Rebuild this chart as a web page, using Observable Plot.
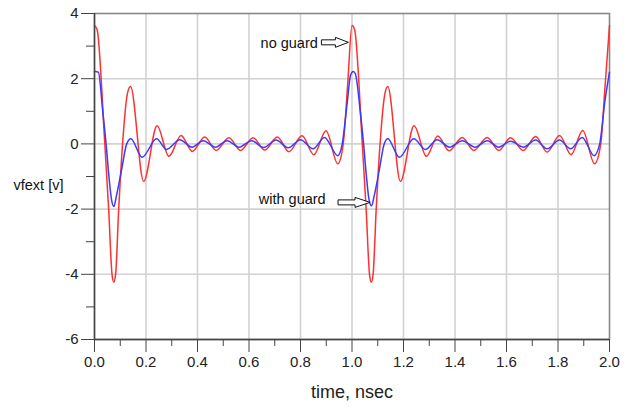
<!DOCTYPE html>
<html><head><meta charset="utf-8">
<script src="https://cdn.jsdelivr.net/npm/d3@7"></script>
<script src="https://cdn.jsdelivr.net/npm/@observablehq/plot@0.6"></script>
<style>html,body{margin:0;padding:0;background:#fff;}</style>
</head><body><div id="chart"></div>
<script>
// ---- data ----
const redT = [0.000,0.010,0.040,0.055,0.068,0.075,0.082,0.094,0.109,0.128,0.140,0.191,0.243,0.289,0.336,0.380,0.428,0.472,0.522,0.567,0.616,0.661,0.710,0.755,0.806,0.852,0.899,0.945,0.966,0.983,
              1.000,1.010,1.040,1.055,1.068,1.075,1.082,1.094,1.109,1.128,1.139,1.188,1.241,1.289,1.333,1.377,1.428,1.473,1.525,1.570,1.616,1.665,1.713,1.758,1.806,1.851,1.896,1.942,1.966,1.983,2.000];
const redV = [3.63,3.51,0.00,-2.00,-4.00,-4.24,-4.00,-2.00,0.00,1.55,1.76,-1.15,0.56,-0.38,0.26,-0.23,0.21,-0.20,0.19,-0.20,0.19,-0.19,0.21,-0.24,0.25,-0.33,0.40,-0.61,0.00,1.80,
              3.63,3.51,0.00,-2.00,-4.00,-4.24,-4.00,-2.00,0.00,1.55,1.76,-1.15,0.56,-0.38,0.24,-0.21,0.20,-0.20,0.20,-0.20,0.19,-0.20,0.23,-0.25,0.26,-0.33,0.41,-0.61,0.00,1.80,3.63];
const blueT = [0.000,0.015,0.032,0.045,0.056,0.066,0.075,0.085,0.105,0.125,0.141,0.185,0.241,0.280,0.331,0.379,0.422,0.470,0.515,0.562,0.610,0.657,0.705,0.752,0.800,0.849,0.893,0.945,0.962,0.982,0.994,
               1.005,1.013,1.032,1.045,1.056,1.066,1.076,1.086,1.106,1.125,1.139,1.184,1.240,1.285,1.331,1.379,1.428,1.478,1.525,1.570,1.616,1.665,1.713,1.758,1.806,1.849,1.894,1.940,1.962,1.982,2.000];
const blueV = [2.23,2.20,1.00,0.00,-1.00,-1.70,-1.92,-1.60,-0.80,0.00,0.16,-0.41,0.16,-0.17,0.13,-0.10,0.10,-0.10,0.10,-0.10,0.10,-0.11,0.12,-0.12,0.13,-0.15,0.20,-0.36,0.00,1.30,2.10,
               2.22,2.15,1.00,0.00,-1.00,-1.70,-1.90,-1.60,-0.80,0.00,0.16,-0.41,0.16,-0.17,0.13,-0.10,0.10,-0.10,0.10,-0.10,0.08,-0.10,0.12,-0.15,0.12,-0.15,0.20,-0.36,0.00,1.30,2.20];

const xMajorTicks = [0,0.2,0.4,0.6,0.8,1.0,1.2,1.4,1.6,1.8,2.0];
const xMinorTicks = [0.1,0.3,0.5,0.7,0.9,1.1,1.3,1.5,1.7,1.9];
const yMajorTicks = [-6,-4,-2,0,2,4];
const yMinorTicks = [-5,-3,-1,1,3];
const xGrid = [0.2,0.4,0.6,0.8,1.0,1.2,1.4,1.6,1.8];
const yGrid = [-4,-2,0,2];

const noteLabels = ["no guard","with guard"];
const noteT = [0.645,0.638];
const noteV = [3.07,-1.70];
const arrowTipT = [0.988,1.072];
const arrowTipV = [3.10,-1.81];

const xTitle = "time, nsec";
const yTitle = "vfext [v]";

// ---- build tables ----
const red = redT.map((t,i)=>({t, v: redV[i]}));
const blue = blueT.map((t,i)=>({t, v: blueV[i]}));
const notes = noteLabels.map((s,i)=>({s, t: noteT[i], v: noteV[i]}));
const arrows = arrowTipT.map((t,i)=>({t, v: arrowTipV[i]}));
const arrowLen = [27, 32], arrowHead = [13, 15];

const fmt = d => (d < 0 ? "-" + (-d) : String(d));

function arrowMark(index, scales) {
  const sx = scales.x, sy = scales.y;
  const g = d3.create("svg:g");
  arrows.forEach((a,i) => {
    const x = sx(a.t), y = sy(a.v), L = arrowLen[i], H = arrowHead[i], hh = 5, bh = 2.5;
    const p = [[x,y],[x-H,y-hh],[x-H,y-bh],[x-L,y-bh],[x-L,y+bh],[x-H,y+bh],[x-H,y+hh]];
    g.append("path").attr("d","M"+p.map(q=>q.join(",")).join("L")+"Z")
      .attr("fill","white").attr("stroke","#111").attr("stroke-width",1);
  });
  return g.node();
}

const chart = Plot.plot({
  width: 628, height: 410,
  marginLeft: 94, marginRight: 19, marginTop: 13, marginBottom: 71,
  x: {domain: [0, 2], label: null},
  y: {domain: [-6, 4], label: null},
  style: {fontFamily: "'Liberation Sans', Arial, sans-serif", fontSize: "15px", background: "white", color: "#222"},
  marks: [
    Plot.gridX(xGrid, {stroke: "#d2d2d2", strokeOpacity: 1, strokeWidth: 1.6}),
    Plot.gridY(yGrid, {stroke: "#d2d2d2", strokeOpacity: 1, strokeWidth: 1.6}),
    Plot.frame({stroke: "#888", strokeWidth: 1.6}),
    Plot.line(red, {x: "t", y: "v", stroke: "#ff3030", strokeWidth: 1.5, curve: "monotone-x"}),
    Plot.line(blue, {x: "t", y: "v", stroke: "#3a3aff", strokeWidth: 1.5, curve: "monotone-x"}),
    Plot.ruleX([0], {stroke: "#444", strokeWidth: 1.4}),
    Plot.ruleY([-6], {stroke: "#444", strokeWidth: 1.4}),
    Plot.axisX(xMajorTicks, {tickSize: 13, tickPadding: 4, tickFormat: d3.format(".1f"), stroke: "#444", label: null, fontSize: 15}),
    Plot.axisX(xMinorTicks, {tickSize: 7, tickFormat: () => "", stroke: "#444", label: null}),
    Plot.axisY(yMajorTicks, {tickSize: 13, tickPadding: 3, tickFormat: fmt, stroke: "#444", label: null, fontSize: 15}),
    Plot.axisY(yMinorTicks, {tickSize: 8, tickFormat: () => "", stroke: "#444", label: null}),
    Plot.text(notes, {x: "t", y: "v", text: "s", textAnchor: "start", fontSize: 14.5, fill: "#111"}),
    arrowMark,
    Plot.text([xTitle], {frameAnchor: "bottom", dy: 58, text: d => d, fontSize: 18, fill: "#222"}),
    Plot.text([yTitle], {frameAnchor: "left", dx: -81, dy: 9, text: d => d, textAnchor: "start", fontSize: 14.5, fill: "#111"})
  ]
});
document.getElementById("chart").appendChild(chart);
</script>
</body></html>
